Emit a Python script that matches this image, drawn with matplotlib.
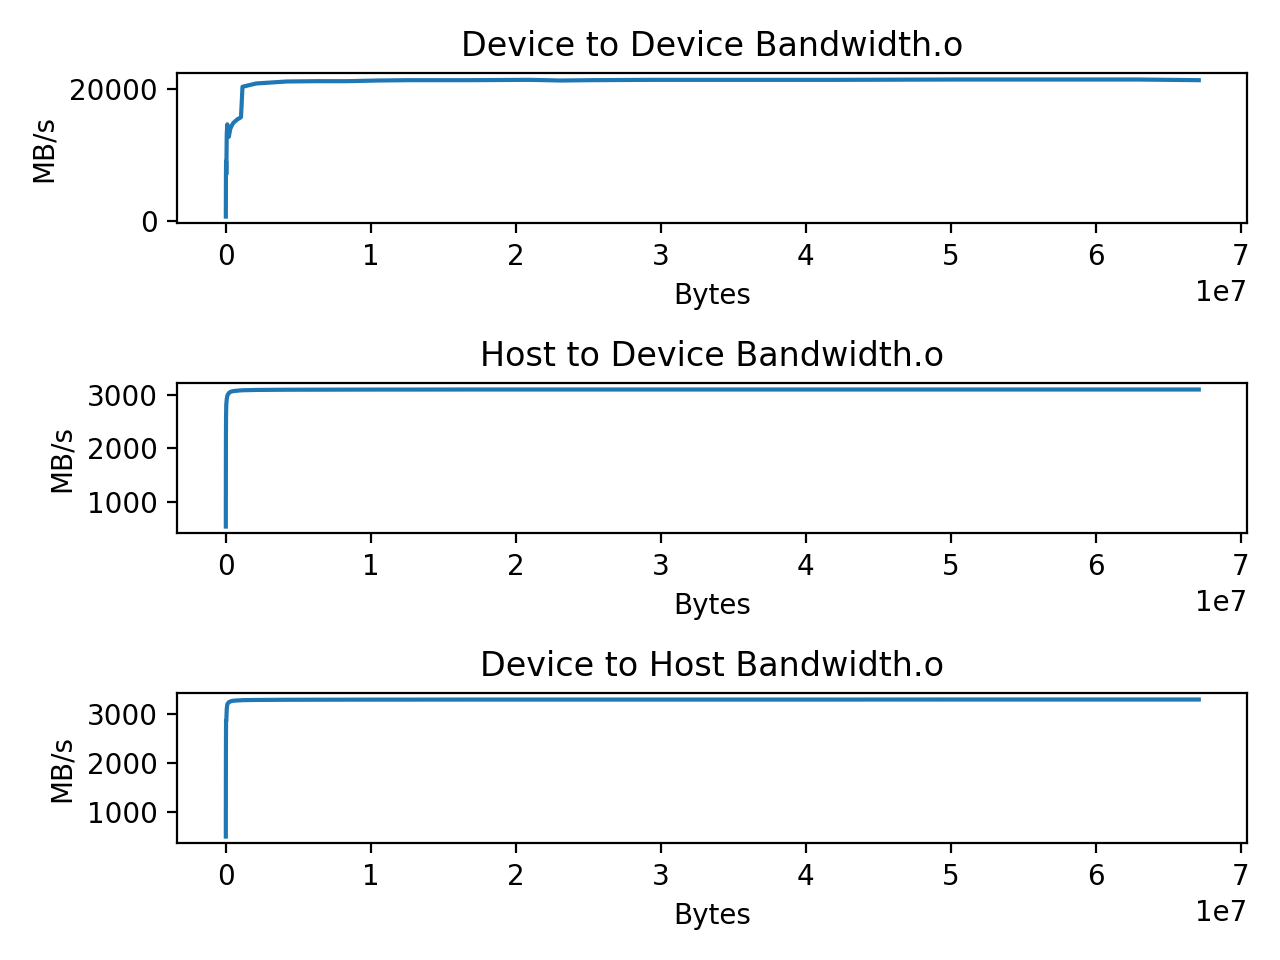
import matplotlib
matplotlib.use("Agg")
import matplotlib.pyplot as plt

titles = ["Device to Device Bandwidth.o", "Host to Device Bandwidth.o", "Device to Host Bandwidth.o"]

sizes = [1024, 2048, 4096, 8192, 16384, 32768, 65536, 102400, 204800, 307200,
         409600, 512000, 614400, 716800, 819200, 921600, 1048576, 1150000,
         2097152, 3145728, 4194304, 6291456, 8388608, 10485760, 12582912,
         16777216, 20971520, 23068672, 25165824, 29360128, 33554432, 41943040,
         50331648, 58720256, 62914560, 67108864]

d2d = [600, 1400, 3000, 6500, 9000, 7000, 13200, 14600, 12700, 13900,
       14400, 14800, 15000, 15200, 15400, 15500, 15700, 20300,
       20800, 20950, 21100, 21150, 21150, 21250, 21300,
       21300, 21350, 21250, 21300, 21350, 21350, 21350,
       21400, 21400, 21400, 21300]

h2d = [540, 1000, 1600, 2200, 2600, 2820, 2920, 2980, 3030, 3050,
       3060, 3065, 3070, 3072, 3075, 3078, 3080, 3082,
       3088, 3090, 3092, 3093, 3094, 3095, 3095,
       3096, 3096, 3096, 3096, 3096, 3096, 3096,
       3096, 3096, 3096, 3096]

d2h = [510, 1000, 1700, 2300, 2860, 2850, 3100, 3190, 3230, 3245,
       3255, 3260, 3262, 3265, 3267, 3268, 3270, 3272,
       3276, 3278, 3280, 3281, 3282, 3283, 3283,
       3284, 3284, 3284, 3284, 3284, 3284, 3284,
       3285, 3285, 3285, 3285]

series = [d2d, h2d, d2h]

fig, axes = plt.subplots(3, 1, figsize=(6.4, 4.8), dpi=200)
for ax, title, vals in zip(axes, titles, series):
    ax.plot(sizes, vals)
    ax.set_title(title)
    ax.set_xlabel("Bytes")
    ax.set_ylabel("MB/s")
fig.tight_layout()
fig.savefig("out.png")
